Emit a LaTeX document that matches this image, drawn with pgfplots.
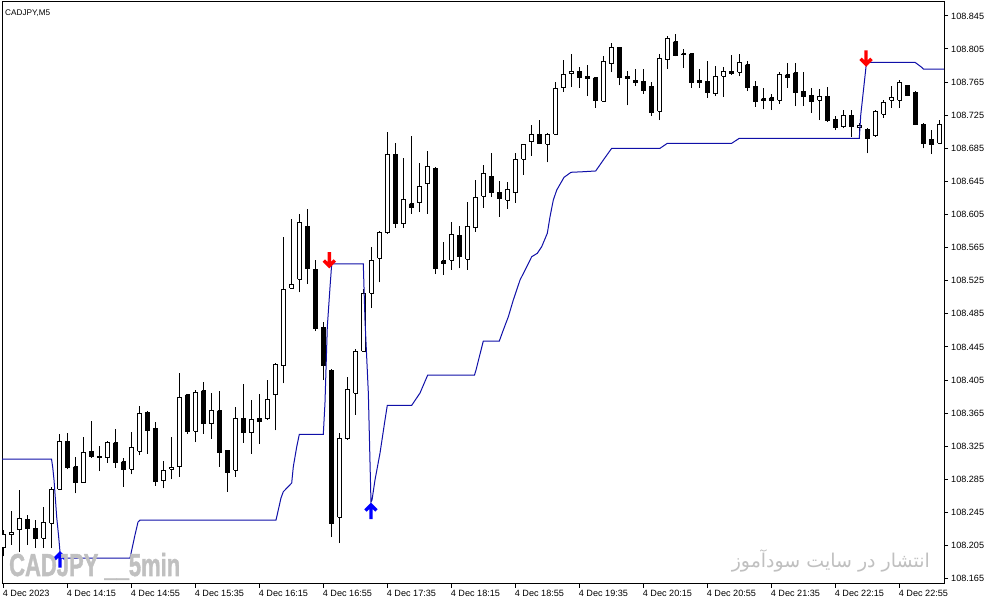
\documentclass[border=0pt]{standalone}
\usepackage{pgfplots}
\pgfplotsset{compat=1.18}
\usepackage{pgfplotstable}
\usepackage{fontspec}
\setmainfont{Liberation Sans}
\newfontfamily\wmfont[FakeBold=1.6]{Liberation Sans Bold}
\newfontfamily\arabicfont[Script=Arabic]{DejaVu Sans}
\TeXXeTstate=1

\definecolor{lineblue}{RGB}{16,16,168}
\definecolor{wmgray}{RGB}{192,192,192}

% thick arrows like the terminal's wingdings signals
\pgfdeclareplotmark{mtdown}{%
  \pgfsetlinewidth{3.4pt}\pgfsetmiterjoin\pgfsetbuttcap
  \pgfpathmoveto{\pgfqpoint{0pt}{8pt}}\pgfpathlineto{\pgfqpoint{0pt}{-4pt}}
  \pgfpathmoveto{\pgfqpoint{-5.5pt}{-0.5pt}}\pgfpathlineto{\pgfqpoint{0pt}{-6pt}}\pgfpathlineto{\pgfqpoint{5.5pt}{-0.5pt}}
  \pgfusepathqstroke}
\pgfdeclareplotmark{mtup}{%
  \pgfsetlinewidth{3.4pt}\pgfsetmiterjoin\pgfsetbuttcap
  \pgfpathmoveto{\pgfqpoint{0pt}{-8pt}}\pgfpathlineto{\pgfqpoint{0pt}{4pt}}
  \pgfpathmoveto{\pgfqpoint{-5.5pt}{0.5pt}}\pgfpathlineto{\pgfqpoint{0pt}{6pt}}\pgfpathlineto{\pgfqpoint{5.5pt}{0.5pt}}
  \pgfusepathqstroke}

\pgfplotsset{
  cwick/.style={black, line width=1pt, mark=none},
  cup/.style={draw=black, fill=white, line width=1pt, mark=none},
  cdown/.style={draw=black, fill=black, line width=1pt, mark=none},
}

% CADJPY M5 bars: index open high low close
\pgfplotstableread{
i o h l c
0 108.203 108.224 108.192 108.218
1 108.218 108.247 108.206 108.221
2 108.224 108.272 108.197 108.238
3 108.237 108.242 108.206 108.225
4 108.226 108.236 108.202 108.214
5 108.214 108.251 108.202 108.233
6 108.232 108.276 108.202 108.273
7 108.273 108.340 108.272 108.331
8 108.331 108.341 108.297 108.299
9 108.300 108.312 108.268 108.281
10 108.281 108.336 108.281 108.318
11 108.319 108.355 108.311 108.312
12 108.313 108.325 108.295 108.311
13 108.311 108.331 108.305 108.329
14 108.329 108.346 108.299 108.305
15 108.306 108.311 108.276 108.297
16 108.297 108.342 108.291 108.323
17 108.319 108.374 108.314 108.365
18 108.366 108.368 108.316 108.344
19 108.347 108.354 108.277 108.282
20 108.283 108.307 108.274 108.296
21 108.297 108.336 108.285 108.299
22 108.300 108.413 108.288 108.384
23 108.387 108.388 108.340 108.343
24 108.343 108.393 108.330 108.390
25 108.392 108.403 108.340 108.353
26 108.352 108.389 108.334 108.368
27 108.368 108.392 108.300 108.318
28 108.320 108.321 108.270 108.293
29 108.296 108.372 108.288 108.358
30 108.359 108.400 108.329 108.341
31 108.341 108.381 108.316 108.357
32 108.359 108.388 108.328 108.355
33 108.358 108.405 108.357 108.381
34 108.387 108.425 108.344 108.424
35 108.422 108.578 108.401 108.514
36 108.516 108.600 108.515 108.521
37 108.527 108.606 108.511 108.595
38 108.591 108.612 108.521 108.540
39 108.539 108.550 108.464 108.467
40 108.469 108.475 108.405 108.422
41 108.417 108.418 108.215 108.232
42 108.239 108.341 108.208 108.334
43 108.334 108.409 108.333 108.393
44 108.389 108.442 108.363 108.440
45 108.440 108.515 108.439 108.510
46 108.510 108.566 108.492 108.550
47 108.552 108.585 108.523 108.583
48 108.583 108.705 108.582 108.678
49 108.678 108.691 108.589 108.594
50 108.594 108.673 108.589 108.623
51 108.618 108.700 108.606 108.614
52 108.619 108.667 108.608 108.639
53 108.642 108.682 108.606 108.663
54 108.661 108.662 108.533 108.540
55 108.549 108.572 108.532 108.546
56 108.550 108.596 108.538 108.581
57 108.580 108.591 108.540 108.554
58 108.551 108.620 108.538 108.591
59 108.589 108.647 108.584 108.626
60 108.627 108.665 108.613 108.654
61 108.651 108.679 108.626 108.632
62 108.632 108.645 108.602 108.624
63 108.622 108.644 108.612 108.635
64 108.631 108.679 108.619 108.671
65 108.672 108.690 108.653 108.689
66 108.693 108.713 108.676 108.702
67 108.702 108.719 108.690 108.691
68 108.690 108.703 108.668 108.702
69 108.702 108.765 108.701 108.757
70 108.758 108.792 108.753 108.774
71 108.775 108.799 108.759 108.778
72 108.778 108.783 108.758 108.771
73 108.772 108.786 108.748 108.769
74 108.770 108.771 108.734 108.743
75 108.742 108.797 108.741 108.790
76 108.787 108.812 108.777 108.807
77 108.807 108.808 108.761 108.771
78 108.772 108.778 108.737 108.769
79 108.767 108.781 108.760 108.765
80 108.766 108.781 108.751 108.755
81 108.760 108.765 108.724 108.728
82 108.730 108.799 108.719 108.794
83 108.792 108.821 108.781 108.818
84 108.814 108.823 108.796 108.797
85 108.799 108.805 108.782 108.798
86 108.799 108.800 108.758 108.764
87 108.767 108.781 108.758 108.765
88 108.766 108.791 108.746 108.753
89 108.751 108.784 108.748 108.772
90 108.772 108.783 108.747 108.778
91 108.778 108.798 108.774 108.775
92 108.777 108.799 108.772 108.789
93 108.786 108.790 108.754 108.759
94 108.760 108.766 108.735 108.741
95 108.745 108.758 108.732 108.743
96 108.746 108.751 108.731 108.743
97 108.743 108.777 108.739 108.774
98 108.774 108.788 108.758 108.771
99 108.776 108.788 108.736 108.753
100 108.754 108.777 108.736 108.747
101 108.749 108.758 108.728 108.741
102 108.743 108.757 108.719 108.748
103 108.748 108.759 108.717 108.718
104 108.720 108.724 108.707 108.710
105 108.711 108.731 108.709 108.725
106 108.725 108.731 108.699 108.711
107 108.710 108.716 108.703 108.712
108 108.708 108.709 108.679 108.697
109 108.700 108.731 108.699 108.729
110 108.726 108.743 108.722 108.740
111 108.743 108.760 108.734 108.746
112 108.743 108.768 108.734 108.764
113 108.761 108.762 108.748 108.749
114 108.753 108.754 108.713 108.714
115 108.714 108.715 108.685 108.691
116 108.696 108.707 108.678 108.690
117 108.691 108.719 108.690 108.714
}\candles

\begin{document}
\begin{tikzpicture}
\path[use as bounding box, fill=white] (-2pt,-21pt) rectangle (989pt,584pt);
\begin{axis}[
    scale only axis, width=942pt, height=582pt,
    xmin=-0.2125, xmax=117.5375,
    ymin=108.1585, ymax=108.8618,
    axis line style={black, line width=1pt},
    tick align=outside, major tick length=4pt,
    tick style={black, line width=1pt},
    xtick pos=left, ytick pos=right,
    xticklabel pos=left, yticklabel pos=right,
    minor tick num=0,
    tick label style={font=\fontsize{9.1}{11}\selectfont, black},
    xtick={0,8,16,24,32,40,48,56,64,72,80,88,96,104,112},
    xticklabels={4 Dec 2023,4 Dec 14:15,4 Dec 14:55,4 Dec 15:35,4 Dec 16:15,4 Dec 16:55,
        4 Dec 17:35,4 Dec 18:15,4 Dec 18:55,4 Dec 19:35,4 Dec 20:15,4 Dec 20:55,
        4 Dec 21:35,4 Dec 22:15,4 Dec 22:55},
    ytick={108.165,108.205,108.245,108.285,108.325,108.365,108.405,108.445,108.485,
        108.525,108.565,108.605,108.645,108.685,108.725,108.765,108.805,108.845},
    yticklabels={108.165,108.205,108.245,108.285,108.325,108.365,108.405,108.445,108.485,
        108.525,108.565,108.605,108.645,108.685,108.725,108.765,108.805,108.845},
    xticklabel style={anchor=north west, inner sep=0pt, xshift=-1pt, yshift=-2pt},
    yticklabel style={anchor=west, inner sep=0pt, xshift=3pt},
]
% candles: wick then body
\pgfplotsforeachungrouped \r in {0,...,117}{%
    \pgfplotstablegetelem{\r}{i}\of\candles \let\ci=\pgfplotsretval
    \pgfplotstablegetelem{\r}{o}\of\candles \let\co=\pgfplotsretval
    \pgfplotstablegetelem{\r}{h}\of\candles \let\ch=\pgfplotsretval
    \pgfplotstablegetelem{\r}{l}\of\candles \let\cl=\pgfplotsretval
    \pgfplotstablegetelem{\r}{c}\of\candles \let\cc=\pgfplotsretval
    \pgfmathsetmacro{\xa}{\ci-0.25}
    \pgfmathsetmacro{\xb}{\ci+0.25}
    \ifdim\cc pt<\co pt \def\bodystyle{cdown}\else\def\bodystyle{cup}\fi
    \edef\tmp{%
        \noexpand\addplot[cwick] coordinates {(\ci,\cl) (\ci,\ch)};
        \noexpand\addplot[\bodystyle] coordinates {(\xa,\co) (\xb,\co) (\xb,\cc) (\xa,\cc) (\xa,\co)};
    }\tmp
}
% trailing stop line
\addplot[lineblue, line width=1pt, mark=none] coordinates {
(-0.21,108.3095) (5.975,108.3095) (6.125,108.2998) (6.29,108.2841) (6.625,108.2394)
(6.91,108.2116) (7.1,108.1899) (15.79,108.1899) (16.41,108.2177) (16.79,108.2334)
(17.04,108.2358) (34.04,108.2358) (34.66,108.2624) (34.95,108.2700) (36.0,108.2805)
(36.2,108.3002) (36.63,108.3244) (36.95,108.3393) (39.95,108.3393) (40.16,108.3772)
(40.45,108.4690) (40.79,108.5174) (41.0,108.5452) (44.95,108.5452) (45.16,108.4775)
(45.58,108.3893) (45.79,108.3047) (45.91,108.2575) (46.04,108.2600) (46.41,108.2841)
(47.04,108.3168) (47.66,108.3566) (47.95,108.3744) (51.0,108.3744) (52.04,108.3893)
(53.0,108.4110) (58.85,108.4110) (59.04,108.4171) (59.95,108.4521) (61.95,108.4521)
(62.45,108.4654) (63.08,108.4815) (63.7,108.5017) (64.54,108.5258) (65.38,108.5419)
(66.0,108.5540) (66.7,108.5581) (67.25,108.5661) (67.95,108.5823) (68.29,108.6023)
(68.7,108.6225) (69.13,108.6346) (70.04,108.6499) (70.91,108.6560) (72.45,108.6567)
(74.0,108.6576) (74.95,108.6708) (76.0,108.6850) (82.04,108.6850) (82.95,108.6910)
(91.0,108.6910) (91.95,108.6971) (106.95,108.6971) (107.13,108.7252) (107.54,108.7615)
(107.79,108.7836) (107.88,108.7889) (113.91,108.7889) (114.75,108.7829) (114.95,108.7808)
(117.6,108.7808)
};
% signal arrows
\addplot[only marks, mark=mtdown, color=red] coordinates {(40.7,108.5500) (107.79,108.7937)};
\addplot[only marks, mark=mtup, color=blue] coordinates {(45.91,108.2467) (7.04,108.1880)};
\end{axis}
% labels over the chart
\node[anchor=base west, inner sep=0pt, font=\fontsize{8.2}{10}\selectfont] at (3pt,568pt) {CADJPY,M5};
\node[anchor=base west, inner sep=0pt, text=wmgray] at (7pt,8pt)
    {\resizebox{171pt}{23pt}{\wmfont CADJPY \_\_5min}};
\node[anchor=base east, inner sep=0pt, text=wmgray] at (928pt,16pt)
    {\resizebox{198pt}{!}{\arabicfont\beginR انتشار در سایت سودآموز\endR}};
\end{tikzpicture}
\end{document}
